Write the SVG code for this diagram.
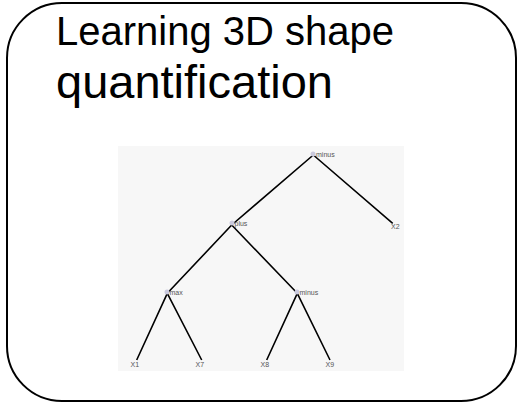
<svg xmlns="http://www.w3.org/2000/svg" width="519" height="404" viewBox="0 0 519 404">
<style>
.frame{fill:#fff;stroke:#000;stroke-width:2}
.title{font-family:"Liberation Sans",Arial,sans-serif;fill:#000}
.edge{stroke:#000;stroke-width:1.6;fill:none}
.lbl{font-family:"Liberation Sans",Arial,sans-serif;font-size:7px;fill:#555}
.dot{fill:#c9c9dd}
</style>
<rect class="frame" x="7" y="3" width="509" height="398" rx="55" ry="55"/>
<text class="title" x="56" y="44.5" font-size="40">Learning 3D shape</text>
<text class="title" x="56" y="98" font-size="47">quantification</text>
<rect x="118" y="146" width="286" height="225" fill="#f7f7f7"/>
<g id="connectors">
<path class="edge" d="M313.3,155 L231.7,225 M313.3,155 L392.7,223.3"/>
<path class="edge" d="M231.7,225 L167.3,293.3 M231.7,225 L297.3,293.3"/>
<path class="edge" d="M167.3,293.3 L136.7,360 M167.3,293.3 L201.7,360"/>
<path class="edge" d="M297.3,293.3 L266.7,360 M297.3,293.3 L330,360"/>
</g>
<g id="n_root"><circle class="dot" cx="313" cy="154" r="2.5"/><text class="lbl" x="316" y="156.5">minus</text></g>
<g id="n_plus"><circle class="dot" cx="232" cy="223" r="2.5"/><text class="lbl" x="234.5" y="225.5">plus</text></g>
<g id="n_x2"><text class="lbl" x="391" y="228.5">X2</text></g>
<g id="n_max"><circle class="dot" cx="167" cy="292" r="2.5"/><text class="lbl" x="169.5" y="294.5">max</text></g>
<g id="n_minus2"><circle class="dot" cx="297" cy="292" r="2.5"/><text class="lbl" x="299.5" y="294.5">minus</text></g>
<g id="n_x1"><text class="lbl" x="130.5" y="366.5">X1</text></g>
<g id="n_x7"><text class="lbl" x="195.5" y="366.5">X7</text></g>
<g id="n_x8"><text class="lbl" x="260.5" y="366.5">X8</text></g>
<g id="n_x9"><text class="lbl" x="325.5" y="366.5">X9</text></g>
</svg>
